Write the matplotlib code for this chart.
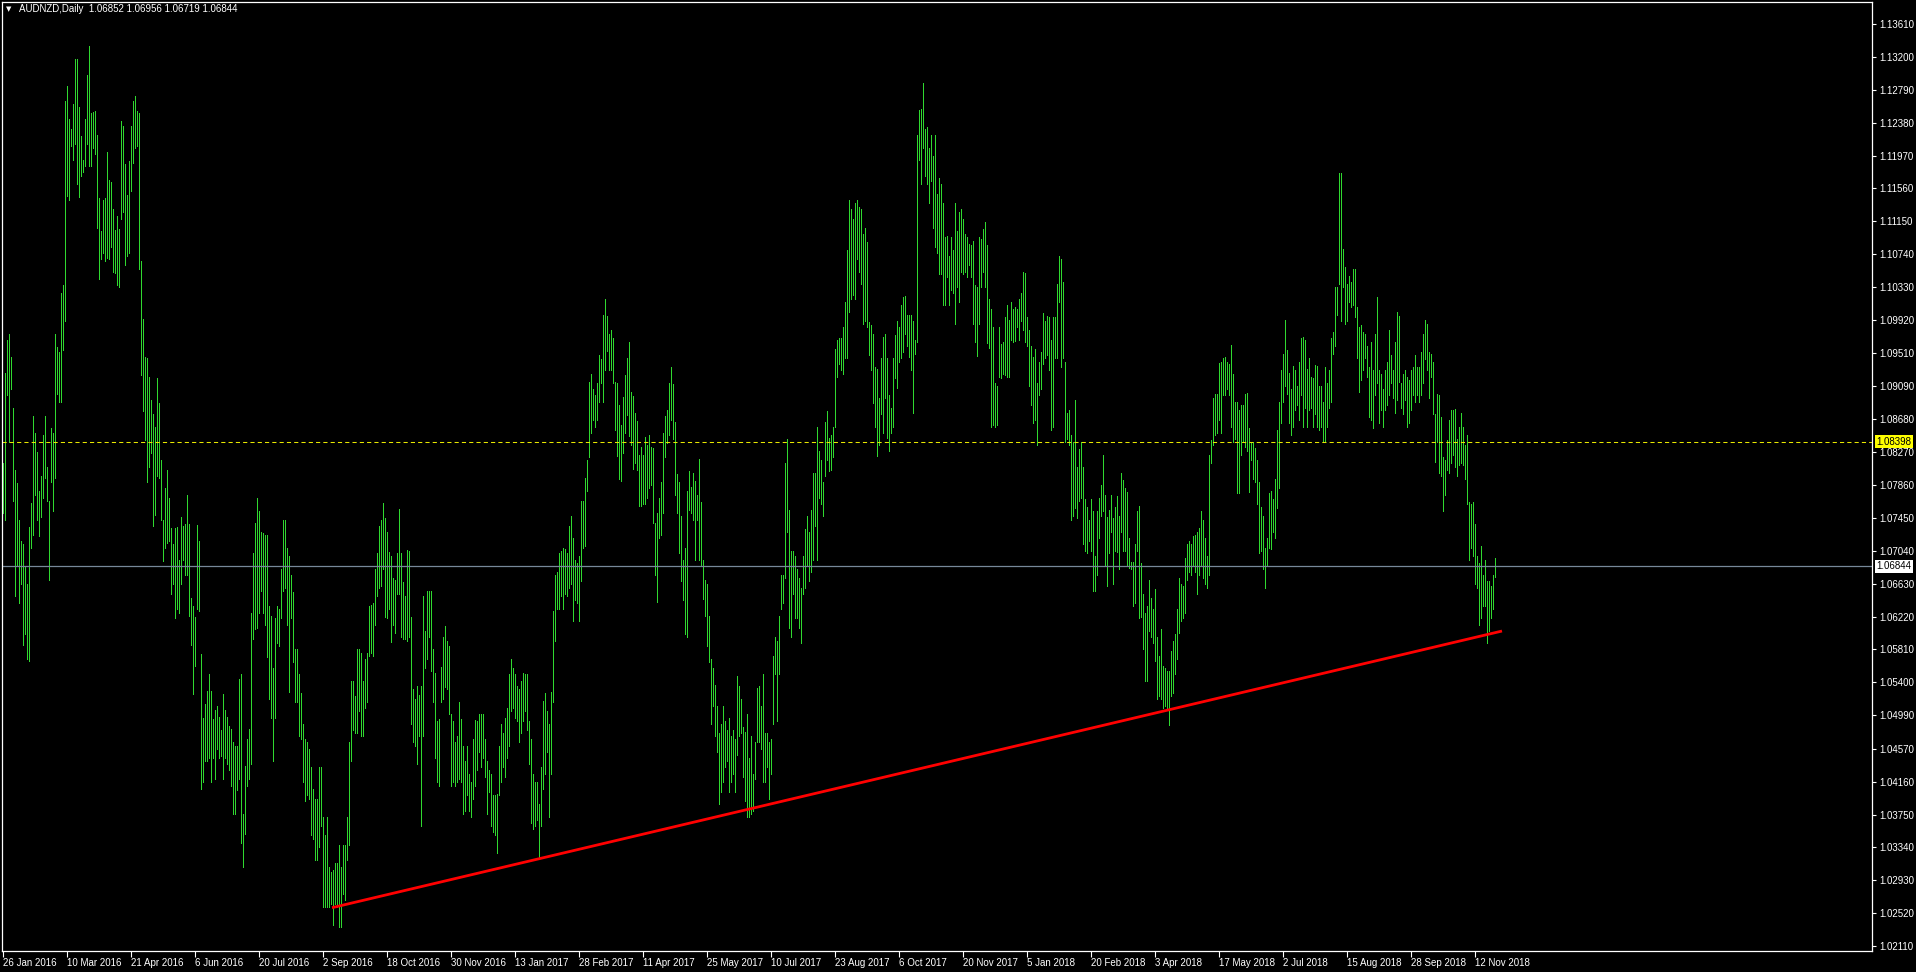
import matplotlib.pyplot as plt
import numpy as np

plt.rcParams['font.family'] = ['Liberation Sans', 'DejaVu Sans']

# AUDNZD daily bars, high and low (one value per bar)
highs = [
    1.0813, 1.0926, 1.0967, 1.0974, 1.0946, 1.0882, 1.0805, 1.0788, 1.0743, 1.0716,
    1.0712, 1.0685, 1.0662, 1.0734, 1.0764, 1.0872, 1.0851, 1.0827, 1.0778, 1.0797,
    1.0848, 1.0872, 1.0809, 1.0766, 1.0857, 1.0851, 1.0974, 1.0958, 1.0952, 1.1026,
    1.1035, 1.1265, 1.1284, 1.1243, 1.1230, 1.1261, 1.1317, 1.1318, 1.1257, 1.1221,
    1.1192, 1.1242, 1.1297, 1.1333, 1.1250, 1.1251, 1.1252, 1.1223, 1.1144, 1.1103,
    1.1141, 1.1144, 1.1202, 1.1167, 1.1164, 1.1130, 1.1104, 1.1122, 1.1105, 1.1240,
    1.1234, 1.1187, 1.1148, 1.1190, 1.1234, 1.1265, 1.1271, 1.1252, 1.1250, 1.1066,
    1.0993, 1.0946, 1.0944, 1.0921, 1.0892, 1.0875, 1.0859, 1.0919, 1.0888, 1.0817,
    1.0743, 1.0782, 1.0805, 1.0770, 1.0733, 1.0712, 1.0733, 1.0734, 1.0693, 1.0746,
    1.0735, 1.0737, 1.0774, 1.0737, 1.0645, 1.0635, 1.0622, 1.0736, 1.0716, 1.0575,
    1.0496, 1.0513, 1.0529, 1.0550, 1.0529, 1.0494, 1.0505, 1.0511, 1.0497, 1.0480,
    1.0525, 1.0506, 1.0497, 1.0486, 1.0482, 1.0465, 1.0461, 1.0461, 1.0544, 1.0550,
    1.0376, 1.0436, 1.0469, 1.0482, 1.0627, 1.0701, 1.0739, 1.0770,
    1.0753, 1.0728, 1.0726, 1.0724, 1.0724, 1.0635, 1.0623, 1.0558, 1.0620, 1.0635,
    1.0631, 1.0681, 1.0743, 1.0743, 1.0708, 1.0697, 1.0674, 1.0652, 1.0581, 1.0581,
    1.0550, 1.0527, 1.0488, 1.0469, 1.0465, 1.0457, 1.0434, 1.0407, 1.0395, 1.0395,
    1.0434, 1.0434, 1.0372, 1.0349, 1.0372, 1.0310, 1.0303, 1.0306, 1.0314, 1.0314,
    1.0337, 1.0310, 1.0337, 1.0337, 1.0372, 1.0465, 1.0542, 1.0542, 1.0523, 1.0581,
    1.0582, 1.0577, 1.0542, 1.0569, 1.0577, 1.0635, 1.0636, 1.0639, 1.0681, 1.0701,
    1.0735, 1.0743, 1.0764, 1.0745, 1.0728, 1.0702, 1.0697, 1.0670, 1.0667, 1.0701,
    1.0756, 1.0701, 1.0665, 1.0648, 1.0705, 1.0704, 1.0621, 1.0531, 1.0519, 1.0535,
    1.0524, 1.0535, 1.0647, 1.0604, 1.0654, 1.0654, 1.0654, 1.0581, 1.0552, 1.0492,
    1.0494, 1.0559, 1.0596, 1.0610, 1.0592, 1.0585, 1.0500, 1.0492, 1.0465, 1.0473,
    1.0515, 1.0494, 1.0461, 1.0442, 1.0461, 1.0426, 1.0415, 1.0469, 1.0493, 1.0492,
    1.0500, 1.0500, 1.0500, 1.0469, 1.0442, 1.0430, 1.0426, 1.0399, 1.0399, 1.0401,
    1.0461, 1.0488, 1.0477, 1.0496, 1.0508, 1.0550,
    1.0569, 1.0558, 1.0550, 1.0535, 1.0531, 1.0542, 1.0551, 1.0550, 1.0550, 1.0492,
    1.0469, 1.0426, 1.0415, 1.0415, 1.0388, 1.0434, 1.0517, 1.0527, 1.0504, 1.0488,
    1.0528, 1.0629, 1.0674, 1.0678, 1.0701, 1.0704, 1.0708, 1.0706, 1.0701, 1.0735,
    1.0747, 1.0720, 1.0693, 1.0689, 1.0697, 1.0766, 1.0766, 1.0795, 1.0817, 1.0915,
    1.0925, 1.0906, 1.0898, 1.0913, 1.0948, 1.0943, 1.0998, 1.1018, 1.0997, 1.0975,
    1.0979, 1.0970, 1.0915, 1.0913, 1.0886, 1.0861, 1.0896, 1.0923, 1.0944, 1.0965,
    1.0902, 1.0897, 1.0876, 1.0866, 1.0824, 1.0834, 1.0824, 1.0846, 1.0836, 1.0848,
    1.0834, 1.0832, 1.0739, 1.0751, 1.0770, 1.0790, 1.0851, 1.0872, 1.0879, 1.0913,
    1.0933, 1.0912, 1.0865, 1.0800, 1.0790, 1.0747, 1.0693, 1.0708, 1.0778, 1.0803,
    1.0784, 1.0801, 1.0791, 1.0774, 1.0818, 1.0765, 1.0693, 1.0668, 1.0662, 1.0623,
    1.0569, 1.0558, 1.0537, 1.0511, 1.0477, 1.0488, 1.0511, 1.0492, 1.0480, 1.0496,
    1.0473, 1.0480, 1.0469, 1.0548, 1.0535, 1.0519, 1.0484, 1.0478, 1.0500, 1.0446,
    1.0473, 1.0426, 1.0465, 1.0533, 1.0535,
    1.0511, 1.0550, 1.0477, 1.0477, 1.0465, 1.0469, 1.0573, 1.0596, 1.0592, 1.0623,
    1.0674, 1.0674, 1.0813, 1.0844, 1.0755, 1.0704, 1.0704, 1.0697, 1.0681, 1.0670,
    1.0658, 1.0697, 1.0731, 1.0747, 1.0728, 1.0755, 1.0801, 1.0801, 1.0859, 1.0828,
    1.0817, 1.0790, 1.0865, 1.0878, 1.0845, 1.0848, 1.0859, 1.0956, 1.0967, 1.0969,
    1.0970, 1.0983, 1.1014, 1.1079, 1.1141, 1.1130, 1.1118, 1.1138, 1.1141, 1.1133,
    1.1130, 1.1099, 1.1107, 1.1089, 1.0989, 1.0985, 1.0975, 1.0933, 1.0931, 1.0894,
    1.0944, 1.0971, 1.0975, 1.0944, 1.0898, 1.0882, 1.0944, 1.0973, 1.0991, 1.0983,
    1.1010, 1.1020, 1.1022, 1.0998, 1.0998, 1.0998, 1.0991, 1.0967, 1.1223, 1.1254,
    1.1255, 1.1288, 1.1230, 1.1232, 1.1207, 1.1223, 1.1196, 1.1223, 1.1149, 1.1169,
    1.1161, 1.1138, 1.1095, 1.1097, 1.1072, 1.1095, 1.1079, 1.1138, 1.1103, 1.1126,
    1.1130, 1.1118, 1.1099, 1.1095, 1.1087, 1.1085, 1.1091, 1.1035, 1.1033, 1.1095,
    1.1093, 1.1105, 1.1114, 1.1085, 1.1018, 1.1006, 1.0983, 1.0913, 1.0909, 1.0983,
    1.0962, 1.0964, 1.0995, 1.1010, 1.0992,
    1.1014, 1.1006, 1.1008, 1.1006, 1.1018, 1.1025, 1.1052, 1.1050, 1.0995, 1.0979,
    1.0960, 1.0946, 1.0956, 1.0913, 1.0940, 1.0952, 1.1001, 1.0991, 1.0997, 1.0995,
    1.0967, 1.0995, 1.0995, 1.1037, 1.1072, 1.1068, 1.1039, 1.0940, 1.0876, 1.0880,
    1.0848, 1.0840, 1.0892, 1.0808, 1.0831, 1.0840, 1.0808, 1.0769, 1.0759, 1.0743,
    1.0769, 1.0753, 1.0697, 1.0753, 1.0770, 1.0786, 1.0824, 1.0774, 1.0746, 1.0755,
    1.0774, 1.0745, 1.0759, 1.0772, 1.0747, 1.0801, 1.0792, 1.0782, 1.0777, 1.0720,
    1.0690, 1.0690, 1.0712, 1.0753, 1.0760, 1.0689, 1.0650, 1.0627, 1.0635, 1.0668,
    1.0645, 1.0631, 1.0656, 1.0596, 1.0573, 1.0606, 1.0560, 1.0558, 1.0554, 1.0554,
    1.0579, 1.0591, 1.0600, 1.0631, 1.0670, 1.0662, 1.0660, 1.0695, 1.0712, 1.0716,
    1.0712, 1.0722, 1.0724, 1.0728, 1.0732, 1.0753, 1.0742, 1.0720, 1.0697, 1.0824,
    1.0842, 1.0894, 1.0899, 1.0900, 1.0938, 1.0940, 1.0944, 1.0946, 1.0940, 1.0937,
    1.0961, 1.0925, 1.0889, 1.0889, 1.0879, 1.0886, 1.0886, 1.0899, 1.0901, 1.0857,
    1.0840, 1.0840, 1.0832, 1.0817, 1.0790,
    1.0759, 1.0747, 1.0708, 1.0720, 1.0776, 1.0778, 1.0768, 1.0794, 1.0855, 1.0889,
    1.0930, 1.0950, 1.0992, 1.0954, 1.0926, 1.0906, 1.0934, 1.0929, 1.0909, 1.0940,
    1.0970, 1.0971, 1.0967, 1.0931, 1.0944, 1.0921, 1.0919, 1.0936, 1.0935, 1.0909,
    1.0909, 1.0890, 1.0933, 1.0913, 1.0929, 1.0970, 1.0977, 1.1033, 1.1033, 1.1175,
    1.1175, 1.1081, 1.1058, 1.1037, 1.1047, 1.1039, 1.1056, 1.1055, 1.1008, 1.0983,
    1.0985, 1.0977, 1.0975, 1.0960, 1.0933, 1.0964, 1.0930, 1.0975, 1.1020, 1.0929,
    1.0925, 1.0906, 1.0929, 1.0940, 1.0979, 1.0948, 1.0929, 1.0964, 1.1002, 1.0997,
    1.0913, 1.0925, 1.0929, 1.0921, 1.0917, 1.0929, 1.0933, 1.0948, 1.0933, 1.0933,
    1.0952, 1.0975, 1.0992, 1.0987, 1.0952, 1.0950, 1.0940, 1.0875, 1.0899, 1.0898,
    1.0871, 1.0821, 1.0817, 1.0842, 1.0867, 1.0879, 1.0879, 1.0881, 1.0844, 1.0859,
    1.0876, 1.0858, 1.0836, 1.0848, 1.0765, 1.0762, 1.0765, 1.0737, 1.0697, 1.0689,
    1.0710, 1.0674, 1.0693, 1.0666, 1.0666, 1.0660, 1.0674, 1.06956,
]

lows = [
    1.0751, 1.0743, 1.0898, 1.0840, 1.0906, 1.0766, 1.0647, 1.0685, 1.0639, 1.0662,
    1.0586, 1.0600, 1.0569, 1.0567, 1.0707, 1.0724, 1.0774, 1.0743, 1.0722, 1.0746,
    1.0770, 1.0795, 1.0766, 1.0668, 1.0790, 1.0754, 1.0795, 1.0900, 1.0890, 1.0890,
    1.0954, 1.0991, 1.1147, 1.1141, 1.1209, 1.1192, 1.1212, 1.1161, 1.1145, 1.1172,
    1.1176, 1.1184, 1.1212, 1.1184, 1.1184, 1.1207, 1.1199, 1.1107, 1.1043, 1.1068,
    1.1076, 1.1066, 1.1069, 1.1068, 1.1083, 1.1052, 1.1050, 1.1035, 1.1033, 1.1118,
    1.1126, 1.1061, 1.1072, 1.1076, 1.1153, 1.1188, 1.1207, 1.1209, 1.1055, 1.0923,
    1.0878, 1.0842, 1.0790, 1.0808, 1.0826, 1.0735, 1.0749, 1.0797, 1.0795, 1.0743,
    1.0691, 1.0708, 1.0714, 1.0716, 1.0650, 1.0662, 1.0620, 1.0631, 1.0627, 1.0662,
    1.0693, 1.0674, 1.0674, 1.0623, 1.0586, 1.0525, 1.0560, 1.0631, 1.0629, 1.0407,
    1.0415, 1.0442, 1.0442, 1.0446, 1.0415, 1.0445, 1.0419, 1.0457, 1.0446, 1.0448,
    1.0419, 1.0446, 1.0438, 1.0430, 1.0411, 1.0376, 1.0376, 1.0405, 1.0419, 1.0339,
    1.0310, 1.0351, 1.0411, 1.0419, 1.0438, 1.0594, 1.0606, 1.0608,
    1.0627, 1.0654, 1.0627, 1.0612, 1.0571, 1.0519, 1.0496, 1.0442, 1.0496, 1.0589,
    1.0585, 1.0620, 1.0654, 1.0658, 1.0612, 1.0528, 1.0620, 1.0565, 1.0515, 1.0515,
    1.0473, 1.0469, 1.0415, 1.0392, 1.0399, 1.0395, 1.0349, 1.0345, 1.0318, 1.0318,
    1.0334, 1.0361, 1.0260, 1.0260, 1.0260, 1.0260, 1.0264, 1.0237, 1.0264, 1.0260,
    1.0235, 1.0235, 1.0276, 1.0268, 1.0318, 1.0337, 1.0442, 1.0480, 1.0477, 1.0477,
    1.0504, 1.0473, 1.0473, 1.0508, 1.0515, 1.0573, 1.0577, 1.0573, 1.0612, 1.0647,
    1.0658, 1.0660, 1.0681, 1.0621, 1.0620, 1.0631, 1.0590, 1.0612, 1.0602, 1.0650,
    1.0650, 1.0596, 1.0594, 1.0594, 1.0592, 1.0596, 1.0488, 1.0465, 1.0461, 1.0438,
    1.0473, 1.0361, 1.0473, 1.0558, 1.0569, 1.0596, 1.0554, 1.0515, 1.0446, 1.0415,
    1.0411, 1.0515, 1.0519, 1.0534, 1.0531, 1.0500, 1.0411, 1.0415, 1.0411, 1.0415,
    1.0419, 1.0415, 1.0376, 1.0380, 1.0399, 1.0380, 1.0372, 1.0395, 1.0411, 1.0430,
    1.0453, 1.0434, 1.0446, 1.0422, 1.0376, 1.0403, 1.0361, 1.0353, 1.0349, 1.0327,
    1.0399, 1.0415, 1.0434, 1.0422, 1.0446, 1.0461,
    1.0504, 1.0508, 1.0496, 1.0492, 1.0465, 1.0477, 1.0492, 1.0504, 1.0480, 1.0438,
    1.0364, 1.0357, 1.0361, 1.0368, 1.0322, 1.0361, 1.0407, 1.0426, 1.0453, 1.0372,
    1.0426, 1.0515, 1.0592, 1.0631, 1.0631, 1.0647, 1.0631, 1.0650, 1.0647, 1.0658,
    1.0662, 1.0616, 1.0643, 1.0639, 1.0616, 1.0666, 1.0708, 1.0710, 1.0778, 1.0821,
    1.0851, 1.0867, 1.0859, 1.0867, 1.0889, 1.0913, 1.0890, 1.0929, 1.0953, 1.0929,
    1.0929, 1.0913, 1.0855, 1.0822, 1.0793, 1.0791, 1.0826, 1.0851, 1.0873, 1.0847,
    1.0836, 1.0806, 1.0814, 1.0805, 1.0760, 1.0760, 1.0762, 1.0762, 1.0770, 1.0782,
    1.0786, 1.0739, 1.0674, 1.0640, 1.0720, 1.0724, 1.0751, 1.0821, 1.0838, 1.0848,
    1.0867, 1.0844, 1.0774, 1.0751, 1.0701, 1.0666, 1.0643, 1.0600, 1.0596, 1.0755,
    1.0751, 1.0743, 1.0693, 1.0743, 1.0693, 1.0685, 1.0644, 1.0623, 1.0585, 1.0565,
    1.0488, 1.0511, 1.0473, 1.0453, 1.0388, 1.0403, 1.0415, 1.0434, 1.0442, 1.0403,
    1.0415, 1.0426, 1.0403, 1.0449, 1.0473, 1.0477, 1.0422, 1.0392, 1.0372, 1.0372,
    1.0376, 1.0380, 1.0419, 1.0465, 1.0465,
    1.0457, 1.0415, 1.0415, 1.0434, 1.0395, 1.0426, 1.0488, 1.0550, 1.0492, 1.0550,
    1.0631, 1.0639, 1.0670, 1.0728, 1.0608, 1.0596, 1.0650, 1.0620, 1.0620, 1.0608,
    1.0589, 1.0650, 1.0658, 1.0685, 1.0666, 1.0677, 1.0693, 1.0735, 1.0693, 1.0770,
    1.0762, 1.0747, 1.0797, 1.0817, 1.0804, 1.0805, 1.0821, 1.0859, 1.0921, 1.0937,
    1.0929, 1.0925, 1.0944, 1.0944, 1.1002, 1.1018, 1.1023, 1.1018, 1.1068, 1.1052,
    1.1037, 1.0987, 1.0991, 1.0983, 1.0948, 1.0930, 1.0888, 1.0859, 1.0822, 1.0836,
    1.0874, 1.0851, 1.0894, 1.0845, 1.0828, 1.0851, 1.0859, 1.0920, 1.0907, 1.0940,
    1.0944, 1.0952, 1.0975, 1.0960, 1.0946, 1.0929, 1.0876, 1.0950, 1.0964, 1.1191,
    1.1161, 1.1207, 1.1172, 1.1161, 1.1138, 1.1165, 1.1107, 1.1083, 1.1076, 1.1049,
    1.1049, 1.1010, 1.1010, 1.1045, 1.1010, 1.1029, 1.1025, 1.0987, 1.1033, 1.1014,
    1.1052, 1.1049, 1.1052, 1.1045, 1.1060, 1.1045, 1.0987, 1.0964, 1.0947, 1.0987,
    1.1033, 1.1052, 1.1033, 1.0963, 1.0957, 1.0859, 1.0861, 1.0859, 1.0861, 1.0921,
    1.0920, 1.0925, 1.0923, 1.0921, 1.0921,
    1.0967, 1.0964, 1.0966, 1.0983, 1.0967, 1.0991, 1.0979, 1.0964, 1.0960, 1.0910,
    1.0886, 1.0863, 1.0867, 1.0836, 1.0898, 1.0906, 1.0937, 1.0944, 1.0948, 1.0929,
    1.0855, 1.0859, 1.0944, 1.0944, 1.1014, 1.0933, 1.0944, 1.0840, 1.0844, 1.0836,
    1.0743, 1.0747, 1.0757, 1.0745, 1.0766, 1.0770, 1.0712, 1.0704, 1.0701, 1.0716,
    1.0704, 1.0654, 1.0654, 1.0674, 1.0720, 1.0747, 1.0753, 1.0685, 1.0660, 1.0701,
    1.0728, 1.0662, 1.0704, 1.0702, 1.0681, 1.0728, 1.0704, 1.0704, 1.0685, 1.0683,
    1.0681, 1.0635, 1.0639, 1.0704, 1.0620, 1.0621, 1.0582, 1.0542, 1.0542, 1.0604,
    1.0596, 1.0589, 1.0567, 1.0519, 1.0523, 1.0519, 1.0508, 1.0511, 1.0508, 1.0487,
    1.0523, 1.0527, 1.0550, 1.0569, 1.0602, 1.0616, 1.0620, 1.0627, 1.0667, 1.0677,
    1.0674, 1.0685, 1.0677, 1.0650, 1.0674, 1.0685, 1.0670, 1.0662, 1.0658, 1.0674,
    1.0813, 1.0836, 1.0848, 1.0851, 1.0867, 1.0851, 1.0898, 1.0898, 1.0906, 1.0898,
    1.0859, 1.0840, 1.0844, 1.0776, 1.0776, 1.0824, 1.0840, 1.0834, 1.0828, 1.0777,
    1.0817, 1.0793, 1.0790, 1.0762, 1.0701,
    1.0704, 1.0681, 1.0658, 1.0685, 1.0708, 1.0706, 1.0728, 1.0720, 1.0757, 1.0782,
    1.0863, 1.0890, 1.0910, 1.0900, 1.0863, 1.0848, 1.0859, 1.0879, 1.0886, 1.0867,
    1.0898, 1.0859, 1.0882, 1.0859, 1.0879, 1.0882, 1.0859, 1.0875, 1.0859, 1.0855,
    1.0859, 1.0840, 1.0840, 1.0859, 1.0882, 1.0890, 1.0950, 1.0960, 1.0998, 1.1037,
    1.0991, 1.1033, 1.0987, 1.0991, 1.1014, 1.1008, 1.1010, 1.0995, 1.0944, 1.0902,
    1.0917, 1.0929, 1.0944, 1.0921, 1.0871, 1.0867, 1.0857, 1.0898, 1.0913, 1.0863,
    1.0879, 1.0859, 1.0879, 1.0886, 1.0898, 1.0913, 1.0894, 1.0876, 1.0892, 1.0915,
    1.0882, 1.0875, 1.0892, 1.0859, 1.0863, 1.0879, 1.0898, 1.0890, 1.0898, 1.0890,
    1.0898, 1.0913, 1.0943, 1.0929, 1.0894, 1.0921, 1.0875, 1.0815, 1.0840, 1.0801,
    1.0797, 1.0753, 1.0774, 1.0805, 1.0801, 1.0813, 1.0824, 1.0809, 1.0797, 1.0811,
    1.0813, 1.0811, 1.0793, 1.0762, 1.0693, 1.0708, 1.0697, 1.0662, 1.0658, 1.0612,
    1.0620, 1.0635, 1.0635, 1.0589, 1.0604, 1.0620, 1.0631, 1.06719,
]

# date labels, one every 32 bars
date_labels = ["26 Jan 2016", "10 Mar 2016", "21 Apr 2016", "6 Jun 2016", "20 Jul 2016",
               "2 Sep 2016", "18 Oct 2016", "30 Nov 2016", "13 Jan 2017", "28 Feb 2017",
               "11 Apr 2017", "25 May 2017", "10 Jul 2017", "23 Aug 2017", "6 Oct 2017",
               "20 Nov 2017", "5 Jan 2018", "20 Feb 2018", "3 Apr 2018", "17 May 2018",
               "2 Jul 2018", "15 Aug 2018", "28 Sep 2018", "12 Nov 2018"]

price_ticks = [1.13610, 1.13200, 1.12790, 1.12380, 1.11970, 1.11560, 1.11150, 1.10740,
               1.10330, 1.09920, 1.09510, 1.09090, 1.08680, 1.08270, 1.07860, 1.07450,
               1.07040, 1.06630, 1.06220, 1.05810, 1.05400, 1.04990, 1.04570, 1.04160,
               1.03750, 1.03340, 1.02930, 1.02520, 1.02110]

# trend line endpoints (bar index, price)
trend_bars = [164.5, 749.5]
trend_prices = [1.02588, 1.06039]

level_price = 1.08398
last_price = 1.06844
title = "AUDNZD,Daily  1.06852 1.06956 1.06719 1.06844"

W, H = 1916, 972
fig = plt.figure(figsize=(W / 100, H / 100), dpi=100, facecolor='black')
ax = fig.add_axes([2 / W, (H - 951) / H, 1870 / W, 949 / H])
ax.set_facecolor('black')

bars = np.arange(len(highs))
ax.vlines(bars, lows, highs, colors='#2fd82f', linewidth=0.5, antialiased=False)

ax.axhline(level_price, color='#e8e800', linestyle=(0, (4, 3)), linewidth=0.75)
ax.axhline(last_price, color='#778899', linewidth=0.9)
ax.plot(trend_bars, trend_prices, color='#ff0000', linewidth=2.0, solid_capstyle='butt')

ax.set_xlim(-0.5, 934.5)
ax.set_ylim(1.02048, 1.13885)

for s in ax.spines.values():
    s.set_color('white')
    s.set_linewidth(0.9)

ax.yaxis.tick_right()
ax.set_yticks(price_ticks)
ax.set_yticklabels([f"{p:.5f}" for p in price_ticks])
ax.tick_params(axis='y', colors='white', labelcolor='white', labelsize=7,
               length=3, width=0.8, pad=2)

ax.set_xticks(np.arange(len(date_labels)) * 32)
ax.set_xticklabels(date_labels, ha='left')
ax.tick_params(axis='x', colors='white', labelcolor='white', labelsize=7,
               length=4, width=0.8, pad=1)

# price labels on the right scale
ax.annotate(f"{level_price:.5f}", xy=(1.0, level_price), xycoords=('axes fraction', 'data'),
            xytext=(3, 0), textcoords='offset points', va='center', ha='left',
            fontsize=7, color='black',
            bbox=dict(boxstyle='square,pad=0.15', facecolor='#ffff00', edgecolor='none'))
ax.annotate(f"{last_price:.5f}", xy=(1.0, last_price), xycoords=('axes fraction', 'data'),
            xytext=(3, 0), textcoords='offset points', va='center', ha='left',
            fontsize=7, color='black',
            bbox=dict(boxstyle='square,pad=0.15', facecolor='white', edgecolor='none'))

fig.text(6 / W, 1 - 9 / H, "\u25BC", color='white', fontsize=5, va='center',
         family='DejaVu Sans')
fig.text(19 / W, 1 - 9 / H, title, color='white', fontsize=7, va='center')

fig.savefig("out.png", dpi=100, facecolor='black')
